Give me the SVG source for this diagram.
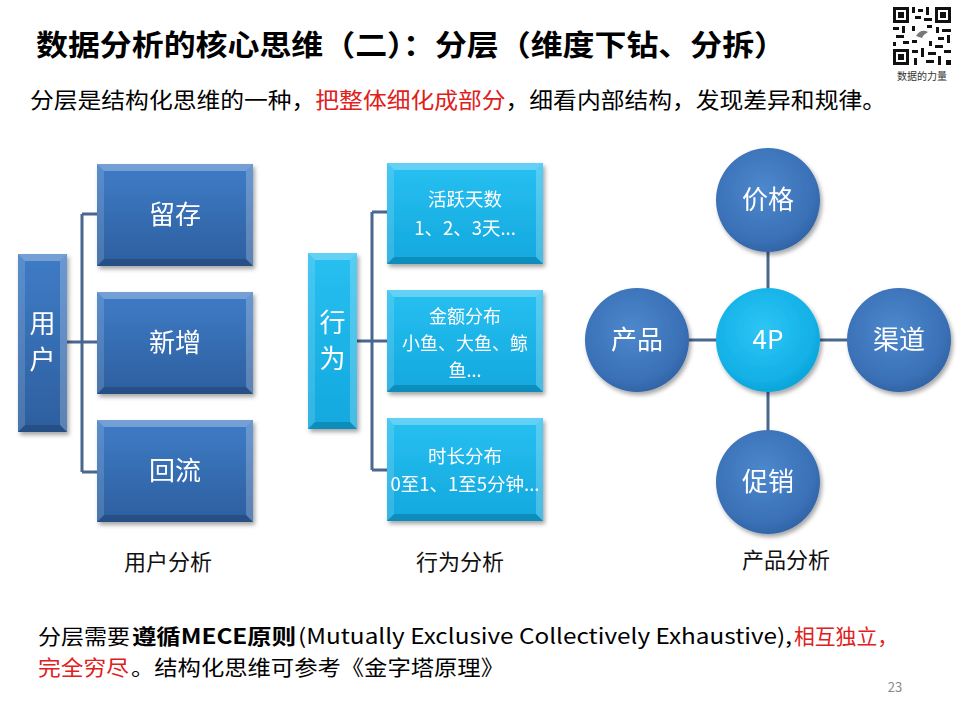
<svg xmlns="http://www.w3.org/2000/svg" width="960" height="720" viewBox="0 0 960 720">
<defs>
<style>
text{font-family:"Noto Sans CJK SC","Noto Sans",sans-serif}
.w{fill:#fff}
.lbl{fill:#111;font-size:22px;text-anchor:middle}
.ft{font-size:21px;fill:#000}
.red{fill:#e0201b}
.c{stroke:#4a6790;stroke-width:3;fill:none}
.bt{fill:#fff;fill-opacity:.28}
.bl{fill:#fff;fill-opacity:.14}
.br{fill:#fff;fill-opacity:.22}
.bb{fill:#000;fill-opacity:.16}
.q{fill:#111}
</style>
<linearGradient id="gd" x1="0" y1="0" x2="0" y2="1"><stop offset="0" stop-color="#3f7cc6"/><stop offset="1" stop-color="#2d5f9f"/></linearGradient>
<linearGradient id="gc" x1="0" y1="0" x2="0" y2="1"><stop offset="0" stop-color="#28c0f1"/><stop offset="1" stop-color="#12a8de"/></linearGradient>
<radialGradient id="rd" cx="0.45" cy="0.4" r="0.62"><stop offset="0" stop-color="#4d88cd"/><stop offset="0.8" stop-color="#3a70b6"/><stop offset="1" stop-color="#3163a4"/></radialGradient>
<radialGradient id="rc" cx="0.45" cy="0.4" r="0.62"><stop offset="0" stop-color="#2ec6f4"/><stop offset="0.8" stop-color="#12b0e6"/><stop offset="1" stop-color="#0ea2d8"/></radialGradient>
<filter id="sh" x="-10%" y="-10%" width="125%" height="125%"><feDropShadow dx="2" dy="3" stdDeviation="2" flood-color="#000" flood-opacity="0.35"/></filter>
</defs>
<rect width="960" height="720" fill="#fff"/>

<g id="header">
<text x="36" y="56" font-size="29" font-weight="bold" fill="#000" textLength="750" lengthAdjust="spacingAndGlyphs">数据分析的核心思维（二）：分层（维度下钻、分拆）</text>
<text x="30" y="108" font-size="22" fill="#000" textLength="856" lengthAdjust="spacingAndGlyphs">分层是结构化思维的一种，<tspan fill="#e0201b">把整体细化成部分</tspan>，细看内部结构，发现差异和规律。</text>
</g>

<g id="qrcode">
<rect x="892" y="6" width="60" height="60" fill="#fff"/>
<rect x="893" y="7" width="16" height="16" class="q"/><rect x="896" y="10" width="10" height="10" fill="#fff"/><rect x="898" y="12" width="6" height="6" class="q"/>
<rect x="935" y="7" width="16" height="16" class="q"/><rect x="938" y="10" width="10" height="10" fill="#fff"/><rect x="940" y="12" width="6" height="6" class="q"/>
<rect x="893" y="49" width="16" height="16" class="q"/><rect x="896" y="52" width="10" height="10" fill="#fff"/><rect x="898" y="54" width="6" height="6" class="q"/>
<rect x="912" y="7" width="3" height="6" class="q"/><rect x="918" y="9" width="5" height="3" class="q"/><rect x="926" y="7" width="3" height="8" class="q"/><rect x="915" y="16" width="6" height="3" class="q"/><rect x="924" y="18" width="8" height="3" class="q"/>
<rect x="893" y="27" width="6" height="3" class="q"/><rect x="902" y="26" width="3" height="7" class="q"/><rect x="896" y="35" width="8" height="3" class="q"/><rect x="893" y="42" width="3" height="4" class="q"/><rect x="903" y="41" width="6" height="3" class="q"/>
<rect x="936" y="27" width="3" height="6" class="q"/><rect x="942" y="29" width="9" height="3" class="q"/><rect x="938" y="37" width="6" height="3" class="q"/><rect x="947" y="35" width="3" height="8" class="q"/><rect x="935" y="45" width="8" height="3" class="q"/>
<rect x="912" y="50" width="6" height="3" class="q"/><rect x="921" y="48" width="3" height="9" class="q"/><rect x="914" y="58" width="3" height="7" class="q"/><rect x="928" y="52" width="8" height="3" class="q"/><rect x="938" y="56" width="3" height="9" class="q"/><rect x="944" y="50" width="7" height="3" class="q"/><rect x="926" y="60" width="8" height="3" class="q"/><rect x="946" y="60" width="5" height="5" class="q"/>
<rect x="912" y="26" width="3" height="5" class="q"/><rect x="927" y="25" width="5" height="3" class="q"/><rect x="912" y="40" width="5" height="3" class="q"/><rect x="929" y="41" width="3" height="5" class="q"/>
<path d="M916 36 q5 -8 12 -4 q-4 2 -6 6 z" fill="#777"/>
<text x="922" y="80" font-size="10" fill="#333" text-anchor="middle">数据的力量</text>
</g>

<g id="connectors">
<path class="c" d="M67 342 H82 M82 214 V472 M82 214 H97 M82 342 H97 M82 472 H97"/>
<path class="c" d="M357 341 H372 M372 212 V470 M372 212 H387 M372 341 H387 M372 470 H387"/>
<path class="c" d="M768 252 V288 M716 340 H689 M820 340 H847 M768 392 V430"/>
</g>

<g id="node-yonghu" filter="url(#sh)">
<rect x="18" y="254" width="49" height="178" fill="url(#gd)"/>
<polygon class="bt" points="18,254 67,254 60,261 25,261"/><polygon class="bl" points="18,254 25,261 25,425 18,432"/><polygon class="br" points="67,254 67,432 60,425 60,261"/><polygon class="bb" points="18,432 67,432 60,425 25,425"/>
<text class="w" x="42.5" y="333" font-size="26" text-anchor="middle">用</text>
<text class="w" x="42.5" y="369" font-size="26" text-anchor="middle">户</text>
</g>
<g id="node-liucun" filter="url(#sh)">
<rect x="97" y="164" width="156" height="102" fill="url(#gd)"/>
<polygon class="bt" points="97,164 253,164 246,171 104,171"/><polygon class="bl" points="97,164 104,171 104,259 97,266"/><polygon class="br" points="253,164 253,266 246,259 246,171"/><polygon class="bb" points="97,266 253,266 246,259 104,259"/>
<text class="w" x="175" y="224" font-size="26" text-anchor="middle">留存</text>
</g>
<g id="node-xinzeng" filter="url(#sh)">
<rect x="97" y="292" width="156" height="102" fill="url(#gd)"/>
<polygon class="bt" points="97,292 253,292 246,299 104,299"/><polygon class="bl" points="97,292 104,299 104,387 97,394"/><polygon class="br" points="253,292 253,394 246,387 246,299"/><polygon class="bb" points="97,394 253,394 246,387 104,387"/>
<text class="w" x="175" y="352" font-size="26" text-anchor="middle">新增</text>
</g>
<g id="node-huiliu" filter="url(#sh)">
<rect x="97" y="420" width="156" height="102" fill="url(#gd)"/>
<polygon class="bt" points="97,420 253,420 246,427 104,427"/><polygon class="bl" points="97,420 104,427 104,515 97,522"/><polygon class="br" points="253,420 253,522 246,515 246,427"/><polygon class="bb" points="97,522 253,522 246,515 104,515"/>
<text class="w" x="175" y="480" font-size="26" text-anchor="middle">回流</text>
</g>
<text class="lbl" x="168" y="570">用户分析</text>

<g id="node-xingwei" filter="url(#sh)">
<rect x="308" y="253" width="49" height="176" fill="url(#gc)"/>
<polygon class="bt" points="308,253 357,253 350,260 315,260"/><polygon class="bl" points="308,253 315,260 315,422 308,429"/><polygon class="br" points="357,253 357,429 350,422 350,260"/><polygon class="bb" points="308,429 357,429 350,422 315,422"/>
<text class="w" x="332.5" y="332" font-size="26" text-anchor="middle">行</text>
<text class="w" x="332.5" y="368" font-size="26" text-anchor="middle">为</text>
</g>
<g id="node-huoyue" filter="url(#sh)">
<rect x="387" y="163" width="156" height="101" fill="url(#gc)"/>
<polygon class="bt" points="387,163 543,163 536,170 394,170"/><polygon class="bl" points="387,163 394,170 394,257 387,264"/><polygon class="br" points="543,163 543,264 536,257 536,170"/><polygon class="bb" points="387,264 543,264 536,257 394,257"/>
<text class="w" x="465" y="206" font-size="18.5" text-anchor="middle">活跃天数</text>
<text class="w" x="465" y="235" font-size="18.5" text-anchor="middle">1、2、3天...</text>
</g>
<g id="node-jine" filter="url(#sh)">
<rect x="387" y="290" width="156" height="102" fill="url(#gc)"/>
<polygon class="bt" points="387,290 543,290 536,297 394,297"/><polygon class="bl" points="387,290 394,297 394,385 387,392"/><polygon class="br" points="543,290 543,392 536,385 536,297"/><polygon class="bb" points="387,392 543,392 536,385 394,385"/>
<text class="w" x="465" y="323" font-size="18" text-anchor="middle">金额分布</text>
<text class="w" x="465" y="350" font-size="18" text-anchor="middle">小鱼、大鱼、鲸</text>
<text class="w" x="465" y="377" font-size="18" text-anchor="middle">鱼...</text>
</g>
<g id="node-shichang" filter="url(#sh)">
<rect x="387" y="418" width="156" height="103" fill="url(#gc)"/>
<polygon class="bt" points="387,418 543,418 536,425 394,425"/><polygon class="bl" points="387,418 394,425 394,514 387,521"/><polygon class="br" points="543,418 543,521 536,514 536,425"/><polygon class="bb" points="387,521 543,521 536,514 394,514"/>
<text class="w" x="465" y="463" font-size="18.5" text-anchor="middle">时长分布</text>
<text class="w" x="465" y="491" font-size="18.5" text-anchor="middle">0至1、1至5分钟...</text>
</g>
<text class="lbl" x="460" y="570">行为分析</text>

<g id="node-jiage" filter="url(#sh)"><circle cx="768" cy="200" r="52" fill="url(#rd)"/><text class="w" x="768" y="209" font-size="26" text-anchor="middle">价格</text></g>
<g id="node-4p" filter="url(#sh)"><circle cx="768" cy="340" r="52" fill="url(#rc)"/><text class="w" x="768" y="349" font-size="26" text-anchor="middle">4P</text></g>
<g id="node-chanpin" filter="url(#sh)"><circle cx="637" cy="340" r="52" fill="url(#rd)"/><text class="w" x="637" y="349" font-size="26" text-anchor="middle">产品</text></g>
<g id="node-qudao" filter="url(#sh)"><circle cx="899" cy="340" r="52" fill="url(#rd)"/><text class="w" x="899" y="349" font-size="26" text-anchor="middle">渠道</text></g>
<g id="node-cuxiao" filter="url(#sh)"><circle cx="768" cy="482" r="52" fill="url(#rd)"/><text class="w" x="768" y="491" font-size="26" text-anchor="middle">促销</text></g>
<text class="lbl" x="786" y="568">产品分析</text>

<g id="footer">
<text class="ft" x="38" y="644" textLength="92" lengthAdjust="spacingAndGlyphs">分层需要</text>
<text class="ft" x="132" y="644" font-weight="bold" textLength="164" lengthAdjust="spacingAndGlyphs">遵循MECE原则</text>
<text class="ft" x="298" y="644" textLength="494" lengthAdjust="spacingAndGlyphs">(Mutually Exclusive Collectively Exhaustive),</text>
<text class="ft red" x="794" y="644" textLength="104" lengthAdjust="spacingAndGlyphs">相互独立，</text>
<text class="ft red" x="38" y="675" textLength="91" lengthAdjust="spacingAndGlyphs">完全穷尽</text>
<text class="ft" x="131" y="675" textLength="373" lengthAdjust="spacingAndGlyphs">。结构化思维可参考《金字塔原理》</text>
<text x="895" y="692" font-size="13" fill="#888" text-anchor="middle">23</text>
</g>
</svg>
